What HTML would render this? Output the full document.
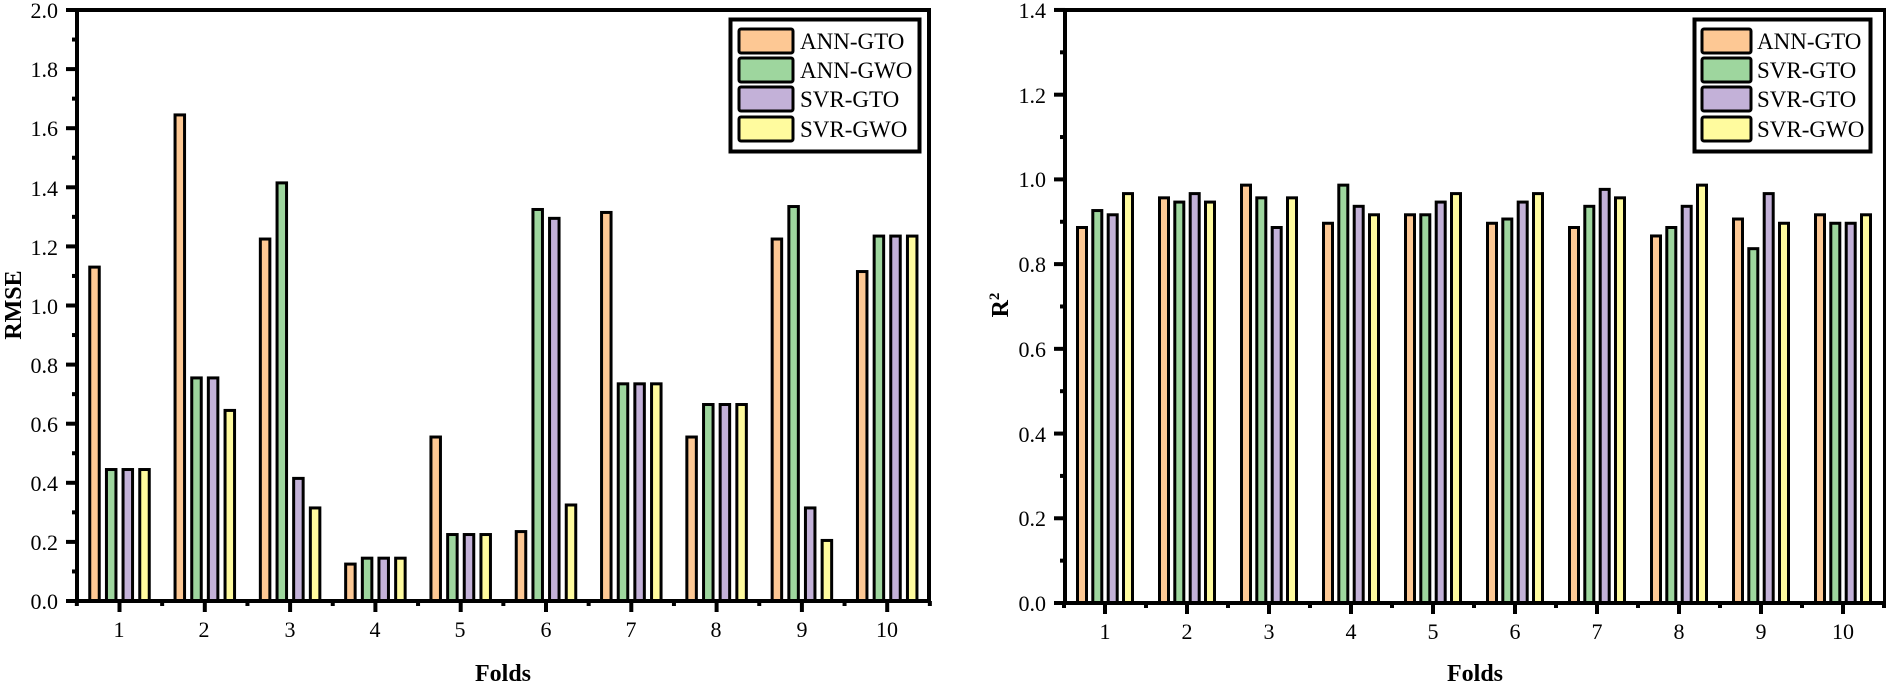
<!DOCTYPE html>
<html><head><meta charset="utf-8"><style>
html,body{margin:0;padding:0;background:#fff;}
svg{display:block;font-family:"Liberation Serif",serif;}
</style></head><body>
<svg id="s" width="1886" height="681" viewBox="0 0 1886 681" xmlns="http://www.w3.org/2000/svg">
<g id="bars"></g>
<g id="axes" stroke="#000" fill="none"></g>
<!-- Left chart tick labels -->
<g font-size="22" text-anchor="end" fill="#000">
<text x="58" y="609">0.0</text><text x="58" y="550">0.2</text><text x="58" y="491">0.4</text><text x="58" y="432">0.6</text><text x="58" y="373">0.8</text><text x="58" y="314">1.0</text><text x="58" y="255">1.2</text><text x="58" y="196">1.4</text><text x="58" y="136">1.6</text><text x="58" y="77">1.8</text><text x="58" y="18">2.0</text>
</g>
<g font-size="22" text-anchor="middle" fill="#000">
<text x="119" y="637">1</text><text x="204" y="637">2</text><text x="290" y="637">3</text><text x="375" y="637">4</text><text x="460" y="637">5</text><text x="546" y="637">6</text><text x="631" y="637">7</text><text x="716" y="637">8</text><text x="802" y="637">9</text><text x="887" y="637">10</text>
</g>
<text x="503" y="681" font-size="24" font-weight="bold" text-anchor="middle">Folds</text>
<text transform="translate(21,305) rotate(-90)" font-size="24" font-weight="bold" text-anchor="middle">RMSE</text>
<!-- Right chart tick labels -->
<g font-size="22" text-anchor="end" fill="#000">
<text x="1046" y="611">0.0</text><text x="1046" y="526">0.2</text><text x="1046" y="442">0.4</text><text x="1046" y="357">0.6</text><text x="1046" y="272">0.8</text><text x="1046" y="187">1.0</text><text x="1046" y="103">1.2</text><text x="1046" y="18">1.4</text>
</g>
<g font-size="22" text-anchor="middle" fill="#000">
<text x="1105" y="639">1</text><text x="1187" y="639">2</text><text x="1269" y="639">3</text><text x="1351" y="639">4</text><text x="1433" y="639">5</text><text x="1515" y="639">6</text><text x="1597" y="639">7</text><text x="1679" y="639">8</text><text x="1761" y="639">9</text><text x="1843" y="639">10</text>
</g>
<text x="1475" y="681" font-size="24" font-weight="bold" text-anchor="middle">Folds</text>
<text transform="translate(1008,305) rotate(-90)" font-size="24" font-weight="bold" text-anchor="middle">R<tspan font-size="15" dy="-9">2</tspan></text>
<!-- Legends -->
<g id="leg1">
<rect x="730.5" y="19.5" width="189" height="132" fill="#fff" stroke="#000" stroke-width="4"/>
<rect x="739" y="29" width="54" height="24" fill="#FDC894" stroke="#000" stroke-width="3" rx="2"/>
<rect x="739" y="58" width="54" height="24" fill="#9ED69E" stroke="#000" stroke-width="3" rx="2"/>
<rect x="739" y="87" width="54" height="24" fill="#C3B1D8" stroke="#000" stroke-width="3" rx="2"/>
<rect x="739" y="117" width="54" height="24" fill="#FFFB9E" stroke="#000" stroke-width="3" rx="2"/>
<g font-size="23"><text x="800" y="49">ANN-GTO</text><text x="800" y="78">ANN-GWO</text><text x="800" y="107">SVR-GTO</text><text x="800" y="137">SVR-GWO</text></g>
</g>
<g>
<rect x="1694.5" y="19.5" width="176" height="132" fill="#fff" stroke="#000" stroke-width="4"/>
<rect x="1702" y="29" width="49" height="24" fill="#FDC894" stroke="#000" stroke-width="3" rx="2"/>
<rect x="1702" y="58" width="49" height="24" fill="#9ED69E" stroke="#000" stroke-width="3" rx="2"/>
<rect x="1702" y="87" width="49" height="24" fill="#C3B1D8" stroke="#000" stroke-width="3" rx="2"/>
<rect x="1702" y="117" width="49" height="24" fill="#FFFB9E" stroke="#000" stroke-width="3" rx="2"/>
<g font-size="23"><text x="1757" y="49">ANN-GTO</text><text x="1757" y="78">SVR-GTO</text><text x="1757" y="107">SVR-GTO</text><text x="1757" y="137">SVR-GWO</text></g>
</g>
</svg>
<script>
var NS="http://www.w3.org/2000/svg";
var cols=["#FDC894","#9ED69E","#C3B1D8","#FFFB9E"];
var L=[[1.135,.45,.45,.45],[1.65,.76,.76,.65],[1.23,1.42,.42,.32],[.13,.15,.15,.15],[.56,.23,.23,.23],[.24,1.33,1.30,.33],[1.32,.74,.74,.74],[.56,.67,.67,.67],[1.23,1.34,.32,.21],[1.12,1.24,1.24,1.24]];
var R=[[.89,.93,.92,.97],[.96,.95,.97,.95],[.99,.96,.89,.96],[.90,.99,.94,.92],[.92,.92,.95,.97],[.90,.91,.95,.97],[.89,.94,.98,.96],[.87,.89,.94,.99],[.91,.84,.97,.90],[.92,.90,.90,.92]];
var bg=document.getElementById("bars"),ax=document.getElementById("axes");
function el(p,t,a){var e=document.createElementNS(NS,t);for(var k in a)e.setAttribute(k,a[k]);p.appendChild(e);return e;}
function chart(D,x1,dx,y0,ppu,offs,bw,xl,xr,yt,ymax,step,minorStep){
 for(var i=0;i<10;i++){var cx=x1+i*dx;for(var j=0;j<4;j++){var h=D[i][j]*ppu;var x=cx+offs[j]-bw/2;
  el(bg,"rect",{x:x+1.5,y:y0-h+1.5,width:bw-3,height:h-1.5,fill:cols[j],stroke:"#000","stroke-width":3});}}
 el(ax,"rect",{x:xl,y:yt,width:xr-xl,height:y0-yt,"stroke-width":4});
 for(var v=0;v<=ymax+1e-6;v+=minorStep){var y=y0-v*ppu;var major=Math.abs(v/step-Math.round(v/step))<1e-6;
  el(ax,"line",{x1:xl-(major?11:5),x2:xl,y1:y,y2:y,"stroke-width":4});}
 for(var i=0;i<10;i++){var cx=x1+i*dx;el(ax,"line",{x1:cx,x2:cx,y1:y0,y2:y0+11,"stroke-width":4});
  el(ax,"line",{x1:cx+dx/2,x2:cx+dx/2,y1:y0,y2:y0+5,"stroke-width":4});}
 el(ax,"line",{x1:x1-dx/2,x2:x1-dx/2,y1:y0,y2:y0+5,"stroke-width":4});
}
chart(L,119.5,85.3,601,295.5,[-25,-8.3,8.3,25],12.5,77,929,10,2.0,0.2,0.1);
chart(R,1105,82,603,423.6,[-23,-7.7,7.7,23],12,1065,1885,10,1.4,0.2,0.1);
</script>
</body></html>
